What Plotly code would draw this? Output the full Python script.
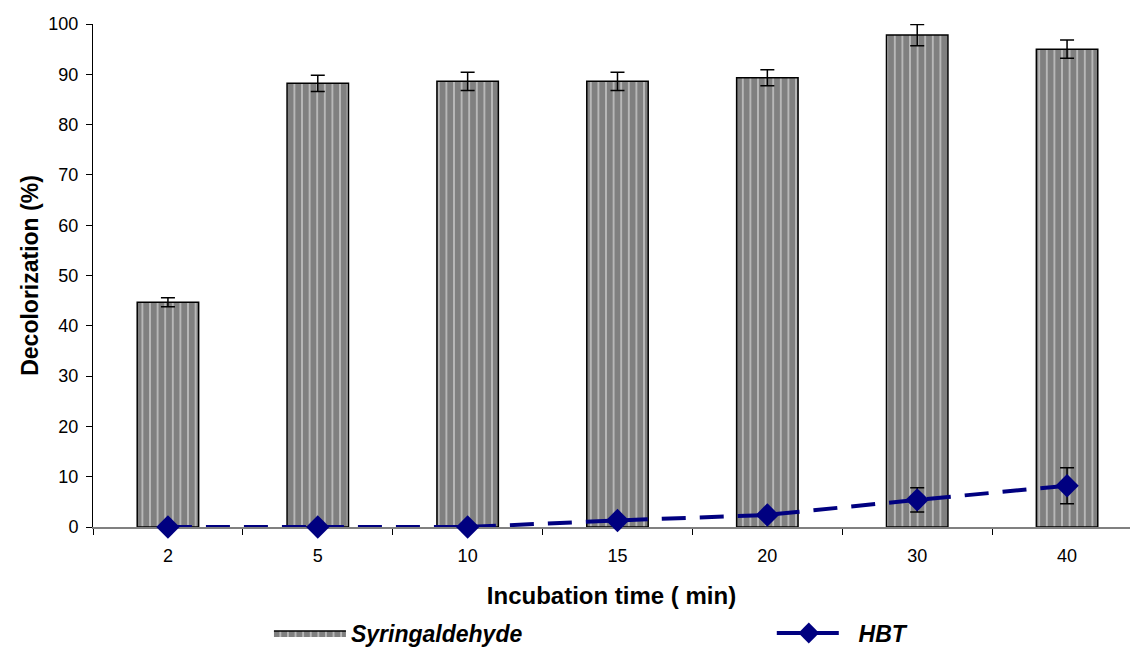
import plotly.graph_objects as go

categories = ["2", "5", "10", "15", "20", "30", "40"]
syringaldehyde = [44.7, 88.2, 88.6, 88.6, 89.3, 97.8, 95.0]
syringaldehyde_err = [0.9, 1.6, 1.8, 1.8, 1.6, 2.1, 1.8]
hbt = [0.0, 0.0, 0.0, 1.3, 2.4, 5.4, 8.2]
hbt_err = [0.0, 0.0, 0.0, 0.0, 0.0, 2.4, 3.6]

FONT = "Liberation Sans, Arial, sans-serif"
NAVY = "#000080"
BAR_PATTERN = dict(shape="|", fgcolor="#ffffff", bgcolor="#808080",
                   size=7.6, solidity=0.22, fillmode="overlay")

fig = go.Figure()
fig.add_trace(go.Bar(
    x=categories, y=syringaldehyde, width=0.41,
    name="Syringaldehyde", showlegend=False,
    marker=dict(color="#808080", pattern=BAR_PATTERN,
                line=dict(color="black", width=1.5)),
    error_y=dict(type="data", array=syringaldehyde_err, visible=True,
                 color="black", thickness=1.5, width=7),
))
# legend proxy for the bar series (wide patterned swatch)
fig.add_trace(go.Scatter(
    x=[None], y=[None], mode="lines", fill="toself",
    name="<b><i>Syringaldehyde</i></b>",
    fillcolor="#808080", fillpattern=BAR_PATTERN,
    line=dict(color="black", width=1.5),
    showlegend=True, legend="legend",
))
fig.add_trace(go.Scatter(
    x=categories, y=hbt, mode="lines+markers",
    name="&nbsp;&nbsp;<b><i>HBT</i></b>",
    showlegend=True, cliponaxis=False,
    line=dict(color=NAVY, width=4, dash="24px,14px"),
    marker=dict(symbol="diamond", size=18, color=NAVY),
    error_y=dict(type="data", array=hbt_err, visible=True,
                 color="black", thickness=1.5, width=7),
    legend="legend2",
))

xr = [-0.5, 6.42]
bounds = [i + 0.5 for i in range(-1, len(categories))]

fig.update_layout(
    width=1130, height=648,
    margin=dict(l=93, r=0, t=24, b=121),
    paper_bgcolor="white", plot_bgcolor="white",
    font=dict(family=FONT, size=18, color="black"),
    showlegend=True,
    xaxis=dict(type="category", categoryarray=categories, range=xr,
               showline=True, linecolor="#808080", linewidth=1.5,
               ticks="outside", tickson="boundaries", ticklen=6,
               tickcolor="black", tickwidth=1, ticklabelstandoff=12,
               showgrid=False, zeroline=False, layer="below traces",
               tickfont=dict(size=18),
               title=dict(text="<b>Incubation time ( min)</b>",
                          font=dict(size=24), standoff=22)),
    xaxis2=dict(overlaying="x", range=xr, tickvals=bounds, ticks="inside",
                ticklen=6, tickcolor="black", showticklabels=False,
                showline=False, showgrid=False, zeroline=False, side="bottom"),
    yaxis=dict(range=[0, 100], dtick=10, showline=True, linecolor="black",
               linewidth=1, ticks="outside", ticklen=6, tickcolor="black",
               ticklabelstandoff=4,
               showgrid=False, zeroline=False, tickfont=dict(size=18),
               title=dict(text="<b>Decolorization (%)</b>", font=dict(size=23),
                          standoff=3)),
    yaxis2=dict(overlaying="y", range=[0, 100], dtick=10, ticks="inside",
                ticklen=6, tickcolor="black", showticklabels=False,
                showline=False, showgrid=False, zeroline=False, side="left"),
    legend=dict(orientation="h", x=0.238, xref="container", y=0.0231, yref="container",
                xanchor="left", yanchor="middle", itemwidth=72,
                font=dict(size=23), bgcolor="rgba(0,0,0,0)", visible=True),
    legend2=dict(orientation="h", x=0.683, xref="container", y=0.0231, yref="container",
                 xanchor="left", yanchor="middle",
                 font=dict(size=23), itemwidth=64, bgcolor="rgba(0,0,0,0)",
                 visible=True),
)

fig.write_html("out.html")
